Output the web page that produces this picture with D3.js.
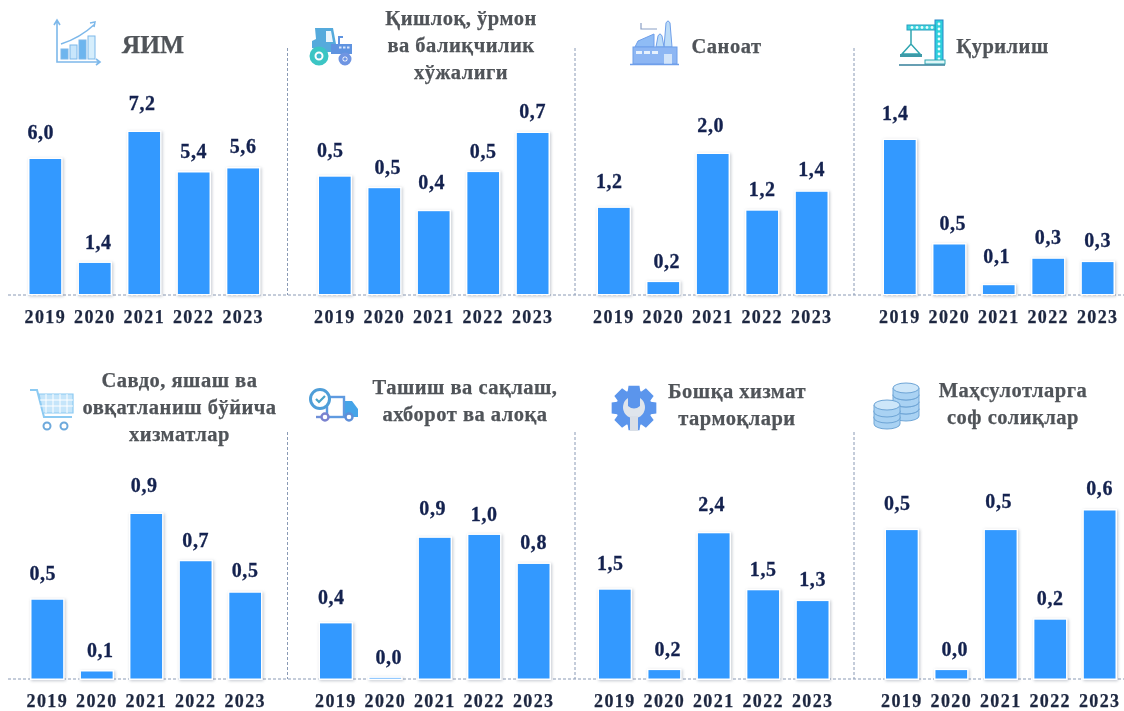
<!DOCTYPE html>
<html>
<head>
<meta charset="utf-8">
<title>ЯИМ</title>
<script src="https://d3js.org/d3.v7.min.js"></script>
<style>
    html, body { margin: 0; background: #fff; }
    svg { display: block; filter: blur(.3px); }
    text { font-family: "Liberation Serif", serif; font-weight: bold; }
    .title { fill: #505459; stroke: #505459; stroke-width: .25; font-size: 20.5px; letter-spacing: .5px; text-anchor: middle; }
    .value { fill: #14224f; stroke: #14224f; stroke-width: .3; font-size: 20px; letter-spacing: .6px; text-anchor: middle; }
    .year text { fill: #1d2740; stroke: #1d2740; stroke-width: .25; font-size: 18px; letter-spacing: 1.4px; }
    .guide { stroke: #8a9ab5; stroke-width: 1; stroke-dasharray: 3 2; }
    .bar { fill: #3399ff; stroke: #fff; stroke-width: 3; paint-order: stroke; filter: drop-shadow(1px 1px 1.5px rgba(90,100,120,.35)); }
</style>
</head>
<body>
<div id="chart"></div>
<script>
    const years = ["2019", "2020", "2021", "2022", "2023"];

    // bar heights, printed labels kept apart because they round differently
    const gdpValues = [6.0, 1.38, 7.2, 5.4, 5.58];
    const gdpLabels = ["6,0", "1,4", "7,2", "5,4", "5,6"];
    const agroValues = [0.51, 0.46, 0.36, 0.53, 0.70];
    const agroLabels = ["0,5", "0,5", "0,4", "0,5", "0,7"];
    const industryValues = [1.23, 0.17, 2.0, 1.19, 1.46];
    const industryLabels = ["1,2", "0,2", "2,0", "1,2", "1,4"];
    const buildValues = [1.4, 0.45, 0.08, 0.32, 0.29];
    const buildLabels = ["1,4", "0,5", "0,1", "0,3", "0,3"];
    const tradeValues = [0.45, 0.04, 0.94, 0.67, 0.49];
    const tradeLabels = ["0,5", "0,1", "0,9", "0,7", "0,5"];
    const transportValues = [0.38, 0.004, 0.97, 0.99, 0.79];
    const transportLabels = ["0,4", "0,0", "0,9", "1,0", "0,8"];
    const otherValues = [1.48, 0.14, 2.42, 1.47, 1.29];
    const otherLabels = ["1,5", "0,2", "2,4", "1,5", "1,3"];
    const taxValues = [0.53, 0.03, 0.53, 0.21, 0.60];
    const taxLabels = ["0,5", "0,0", "0,5", "0,2", "0,6"];

    const gdpTitle = ["ЯИМ"];
    const agroTitle = ["Қишлоқ, ўрмон", "ва балиқчилик", "хўжалиги"];
    const industryTitle = ["Саноат"];
    const buildTitle = ["Қурилиш"];
    const tradeTitle = ["Савдо, яшаш ва", "овқатланиш бўйича", "хизматлар"];
    const transportTitle = ["Ташиш ва сақлаш,", "ахборот ва алоқа"];
    const otherTitle = ["Бошқа хизмат", "тармоқлари"];
    const taxTitle = ["Маҳсулотларга", "соф солиқлар"];

    const width = 1124;
    const height = 711;
    const rowBase = [294, 678.5];
    const rowGuide = [295, 679];
    const rowGuideTop = [48, 432];
    const separators = [287.5, 575, 854];
    const bandWidth = 229.5;

    // hand placed data labels, same pattern in every panel of the source
    const labelDx = [-4.5, 3.5, -2, 0, 0];
    const labelDy = [-26.5, -21, -29, -21, -22];

    const panels = [
        { values: gdpValues, labels: gdpLabels, title: gdpTitle, row: 0, x0: 29.5, pxPerUnit: 22.5, tx: 153, ty: [45], size: 25.5, icon: iconGrowth },
        { values: agroValues, labels: agroLabels, title: agroTitle, row: 0, x0: 319, pxPerUnit: 230, tx: 461, ty: [18, 45, 72], icon: iconTractor },
        { values: industryValues, labels: industryLabels, title: industryTitle, row: 0, x0: 598, pxPerUnit: 70, tx: 726.5, ty: [46], icon: iconFactory },
        { values: buildValues, labels: buildLabels, title: buildTitle, row: 0, x0: 884, pxPerUnit: 110, tx: 1002.5, ty: [46], icon: iconCrane },
        { values: tradeValues, labels: tradeLabels, title: tradeTitle, row: 1, x0: 31.5, pxPerUnit: 175, tx: 179.5, ty: [380, 407, 434], icon: iconCart },
        { values: transportValues, labels: transportLabels, title: transportTitle, row: 1, x0: 320, pxPerUnit: 145, tx: 465, ty: [387, 414], icon: iconTruck },
        { values: otherValues, labels: otherLabels, title: otherTitle, row: 1, x0: 599, pxPerUnit: 60, tx: 737, ty: [391, 418], icon: iconGear },
        { values: taxValues, labels: taxLabels, title: taxTitle, row: 1, x0: 886, pxPerUnit: 280, tx: 1013, ty: [390, 417], icon: iconCoins }
    ];

    const svg = d3.select("#chart")
        .append("svg")
        .attr("width", width)
        .attr("height", height);

    svg.append("rect").attr("width", width).attr("height", height).attr("fill", "#fff");

    // dashed guides
    rowGuide.forEach(function(y, i) {
        svg.append("line").attr("class", "guide")
            .attr("x1", 8).attr("x2", width).attr("y1", y).attr("y2", y);
        separators.forEach(function(x) {
            svg.append("line").attr("class", "guide")
                .attr("x1", x).attr("x2", x).attr("y1", rowGuideTop[i]).attr("y2", y);
        });
    });

    panels.forEach(function(p) {
        const base = rowBase[p.row];
        const x = d3.scaleBand().domain(years)
            .range([p.x0, p.x0 + bandWidth])
            .paddingInner(0.36).paddingOuter(0);
        const maxValue = d3.max(p.values);
        const y = d3.scaleLinear().domain([0, maxValue])
            .range([base, base - maxValue * p.pxPerUnit]);

        const g = svg.append("g");

        g.selectAll(".bar")
            .data(p.values)
            .enter().append("rect")
            .attr("class", "bar")
            .attr("x", (d, i) => x(years[i]))
            .attr("width", x.bandwidth())
            .attr("y", d => y(d))
            .attr("height", d => Math.max(0.6, base - y(d)));

        g.selectAll(".value")
            .data(p.labels)
            .enter().append("text")
            .attr("class", "value")
            .attr("x", (d, i) => x(years[i]) + x.bandwidth() / 2 + labelDx[i])
            .attr("y", (d, i) => y(p.values[i]) + labelDy[i])
            .attr("dy", "0.33em")
            .text(d => d);

        const axis = g.append("g")
            .attr("class", "year")
            .attr("transform", "translate(0," + (rowGuide[p.row] + 21.5) + ")")
            .call(d3.axisBottom(x).tickSize(0).tickPadding(0));
        axis.select(".domain").remove();
        axis.selectAll("text").attr("dy", "0.35em");

        g.selectAll(".title")
            .data(p.title)
            .enter().append("text")
            .attr("class", "title")
            .attr("x", p.tx)
            .attr("y", (d, i) => p.ty[i])
            .attr("dy", "0.33em")
            .style("font-size", p.size ? p.size + "px" : null)
            .style("letter-spacing", p.size ? "0" : null)
            .text(d => d);

        p.icon(svg.append("g"));
    });

    // --- pictograms ---
    function iconGrowth(g) {
        const line = "#7db8ea";
        g.append("path").attr("d", "M57 21V62H100M54 25L57 20L60 25M96 59L100 62L96 65")
            .attr("fill", "none").attr("stroke", line).attr("stroke-width", 1.6);
        g.append("path").attr("d", "M61 44Q80 38 95 24M90 23L95 22L94 27")
            .attr("fill", "none").attr("stroke", line).attr("stroke-width", 1.5);
        [[61, 49, 10, "#6db5ee"], [70, 45, 14, "#c8e6fb"], [79, 40, 19, "#6db5ee"], [88, 36, 23, "#d6eefc"]].forEach(function(b) {
            g.append("rect").attr("x", b[0]).attr("y", b[1]).attr("width", 7).attr("height", b[2])
                .attr("fill", b[3]).attr("stroke", line).attr("stroke-width", 1);
        });
    }

    function iconTractor(g) {
        g.append("path").attr("d", "M315 28H333L336 44H350V52H325L312 48L312 41L316 39Z").attr("fill", "#55aadc");
        g.append("path").attr("d", "M326 31H331L333 42H326Z").attr("fill", "#eaf5fc");
        g.append("path").attr("d", "M331 44H352V54H331Z").attr("fill", "#5f93e0");
        [339, 343, 347].forEach(function(x) {
            g.append("rect").attr("x", x).attr("y", 46.5).attr("width", 2.5).attr("height", 2).attr("fill", "#d8e6fb");
        });
        g.append("path").attr("d", "M339 44V37H343").attr("fill", "none").attr("stroke", "#5f93e0").attr("stroke-width", 2);
        g.append("circle").attr("cx", 319).attr("cy", 56).attr("r", 7).attr("fill", "#fff").attr("stroke", "#3cc5c4").attr("stroke-width", 5);
        g.append("circle").attr("cx", 319).attr("cy", 56).attr("r", 2.5).attr("fill", "#44b9cf");
        g.append("circle").attr("cx", 345).attr("cy", 59).attr("r", 4.5).attr("fill", "#fff").attr("stroke", "#6f95e2").attr("stroke-width", 4);
        g.append("circle").attr("cx", 345).attr("cy", 59).attr("r", 1.8).attr("fill", "#6f95e2");
    }

    function iconFactory(g) {
        const line = "#6f9fea";
        g.append("path").attr("d", "M641 23V29H657").attr("fill", "none").attr("stroke", "#8a9fc5").attr("stroke-width", 1.2);
        g.append("path").attr("d", "M664 47L666 23Q668 19 670 23L672 47Z").attr("fill", "#bcdcf8").attr("stroke", line);
        g.append("path").attr("d", "M656 47L658 36Q660 32 662 36L664 47Z").attr("fill", "#bcdcf8").attr("stroke", line);
        g.append("path").attr("d", "M635 47L638 41L654 34V47Z").attr("fill", "#8fbcf5").attr("stroke", line);
        g.append("rect").attr("x", 633).attr("y", 47).attr("width", 44).attr("height", 17).attr("fill", "#8db6f3").attr("stroke", line);
        [636, 644, 652].forEach(function(x) {
            g.append("rect").attr("x", x).attr("y", 51).attr("width", 6).attr("height", 3).attr("fill", "#e6f1fd");
        });
        g.append("rect").attr("x", 664).attr("y", 54).attr("width", 8).attr("height", 10).attr("fill", "#d2e4fa");
        g.append("line").attr("x1", 630).attr("x2", 679).attr("y1", 64.5).attr("y2", 64.5).attr("stroke", line).attr("stroke-width", 1.5);
    }

    function iconCrane(g) {
        const teal = "#2fa5b0";
        g.append("rect").attr("x", 935).attr("y", 20).attr("width", 8).attr("height", 41).attr("fill", "#2ed0dc").attr("stroke", "#2a88c8");
        g.append("rect").attr("x", 907).attr("y", 25).attr("width", 28).attr("height", 5).attr("fill", "#3bd3dc").attr("stroke", "#2a9fc0");
        // lattice holes of the tower and the jib
        d3.range(24, 60, 5).forEach(function(y) {
            g.append("circle").attr("cx", 939).attr("cy", y).attr("r", 1.4).attr("fill", "#e8fbfc");
        });
        d3.range(912, 934, 5).forEach(function(x) {
            g.append("circle").attr("cx", x).attr("cy", 27.5).attr("r", 1.4).attr("fill", "#e8fbfc");
        });
        g.append("path").attr("d", "M911 30V44M911 44L902 54H920Z").attr("fill", "none").attr("stroke", teal).attr("stroke-width", 1.5);
        g.append("rect").attr("x", 900).attr("y", 54).attr("width", 22).attr("height", 3).attr("fill", "#3d9aa8");
        g.append("rect").attr("x", 925).attr("y", 60).attr("width", 20).attr("height", 4).attr("fill", "#dff6f8").attr("stroke", teal);
        g.append("line").attr("x1", 899).attr("x2", 945).attr("y1", 65).attr("y2", 65).attr("stroke", "#357f9a").attr("stroke-width", 1.4);
    }

    function iconCart(g) {
        const line = "#8ccaf2";
        g.append("path").attr("d", "M30 390H37L44 417H72").attr("fill", "none").attr("stroke", line).attr("stroke-width", 2);
        g.append("path").attr("d", "M39 394H73V413H43Z").attr("fill", "#c5e5fa").attr("stroke", line).attr("stroke-width", 1.2);
        [46, 53, 60, 67].forEach(function(x) {
            g.append("line").attr("x1", x).attr("x2", x).attr("y1", 394).attr("y2", 413).attr("stroke", "#fff").attr("stroke-width", 1);
        });
        [400, 406].forEach(function(y) {
            g.append("line").attr("x1", 40).attr("x2", 73).attr("y1", y).attr("y2", y).attr("stroke", "#fff").attr("stroke-width", 1);
        });
        [47, 64].forEach(function(x) {
            g.append("circle").attr("cx", x).attr("cy", 426).attr("r", 3.5).attr("fill", "#fff").attr("stroke", "#6da9dc").attr("stroke-width", 2);
        });
    }

    function iconTruck(g) {
        g.append("rect").attr("x", 327).attr("y", 397).attr("width", 17).attr("height", 20).attr("fill", "#fff").attr("stroke", "#5f9ae0").attr("stroke-width", 2.4);
        g.append("path").attr("d", "M345 401H352L358 409V417H345Z").attr("fill", "#45a4e8");
        g.append("line").attr("x1", 316).attr("x2", 327).attr("y1", 417).attr("y2", 417).attr("stroke", "#6f8fd8").attr("stroke-width", 2.4);
        g.append("circle").attr("cx", 320).attr("cy", 399).attr("r", 9.5).attr("fill", "#fff").attr("stroke", "#4f9ed8").attr("stroke-width", 3);
        g.append("path").attr("d", "M316 399L319 402L325 396").attr("fill", "none").attr("stroke", "#4aa3c8").attr("stroke-width", 2.2);
        g.append("circle").attr("cx", 325).attr("cy", 417).attr("r", 3.5).attr("fill", "#fff").attr("stroke", "#7a82cf").attr("stroke-width", 2.4);
        g.append("circle").attr("cx", 349).attr("cy", 417).attr("r", 3.5).attr("fill", "#fff").attr("stroke", "#5f8fd8").attr("stroke-width", 2.4);
    }

    function iconGear(g) {
        // eight toothed wheel around its centre
        const cx = 634, cy = 408;
        const pts = [];
        d3.range(8).forEach(function(i) {
            const a = i * Math.PI / 4 - Math.PI / 2;
            [[-0.36, 18], [-0.24, 23], [0.24, 23], [0.36, 18]].forEach(function(t) {
                pts.push([cx + t[1] * Math.cos(a + t[0]), cy + t[1] * Math.sin(a + t[0])]);
            });
        });
        g.append("path").attr("d", d3.line()(pts) + "Z").attr("fill", "#5b95ec");
        g.append("path").attr("d", "M628 398A11 11 0 1 0 640 398V406Q634 411 628 406Z").attr("fill", "#dfe5ec");
        g.append("rect").attr("x", 630).attr("y", 416).attr("width", 8).attr("height", 15).attr("fill", "#d9dfe7");
    }

    function iconCoins(g) {
        function stack(cx, ys) {
            ys.forEach(function(y) {
                g.append("path")
                    .attr("d", "M" + (cx - 13) + " " + y + "V" + (y + 7) + "A13 5 0 0 0 " + (cx + 13) + " " + (y + 7) + "V" + y + "Z")
                    .attr("fill", "#a9d2f3").attr("stroke", "#6ea5d6").attr("stroke-width", 1);
                g.append("ellipse").attr("cx", cx).attr("cy", y).attr("rx", 13).attr("ry", 5)
                    .attr("fill", "#cde6f9").attr("stroke", "#6ea5d6").attr("stroke-width", 1);
            });
        }
        stack(906, [409, 402, 395, 388]);
        stack(887, [417, 411, 405]);
    }
</script>
</body>
</html>
